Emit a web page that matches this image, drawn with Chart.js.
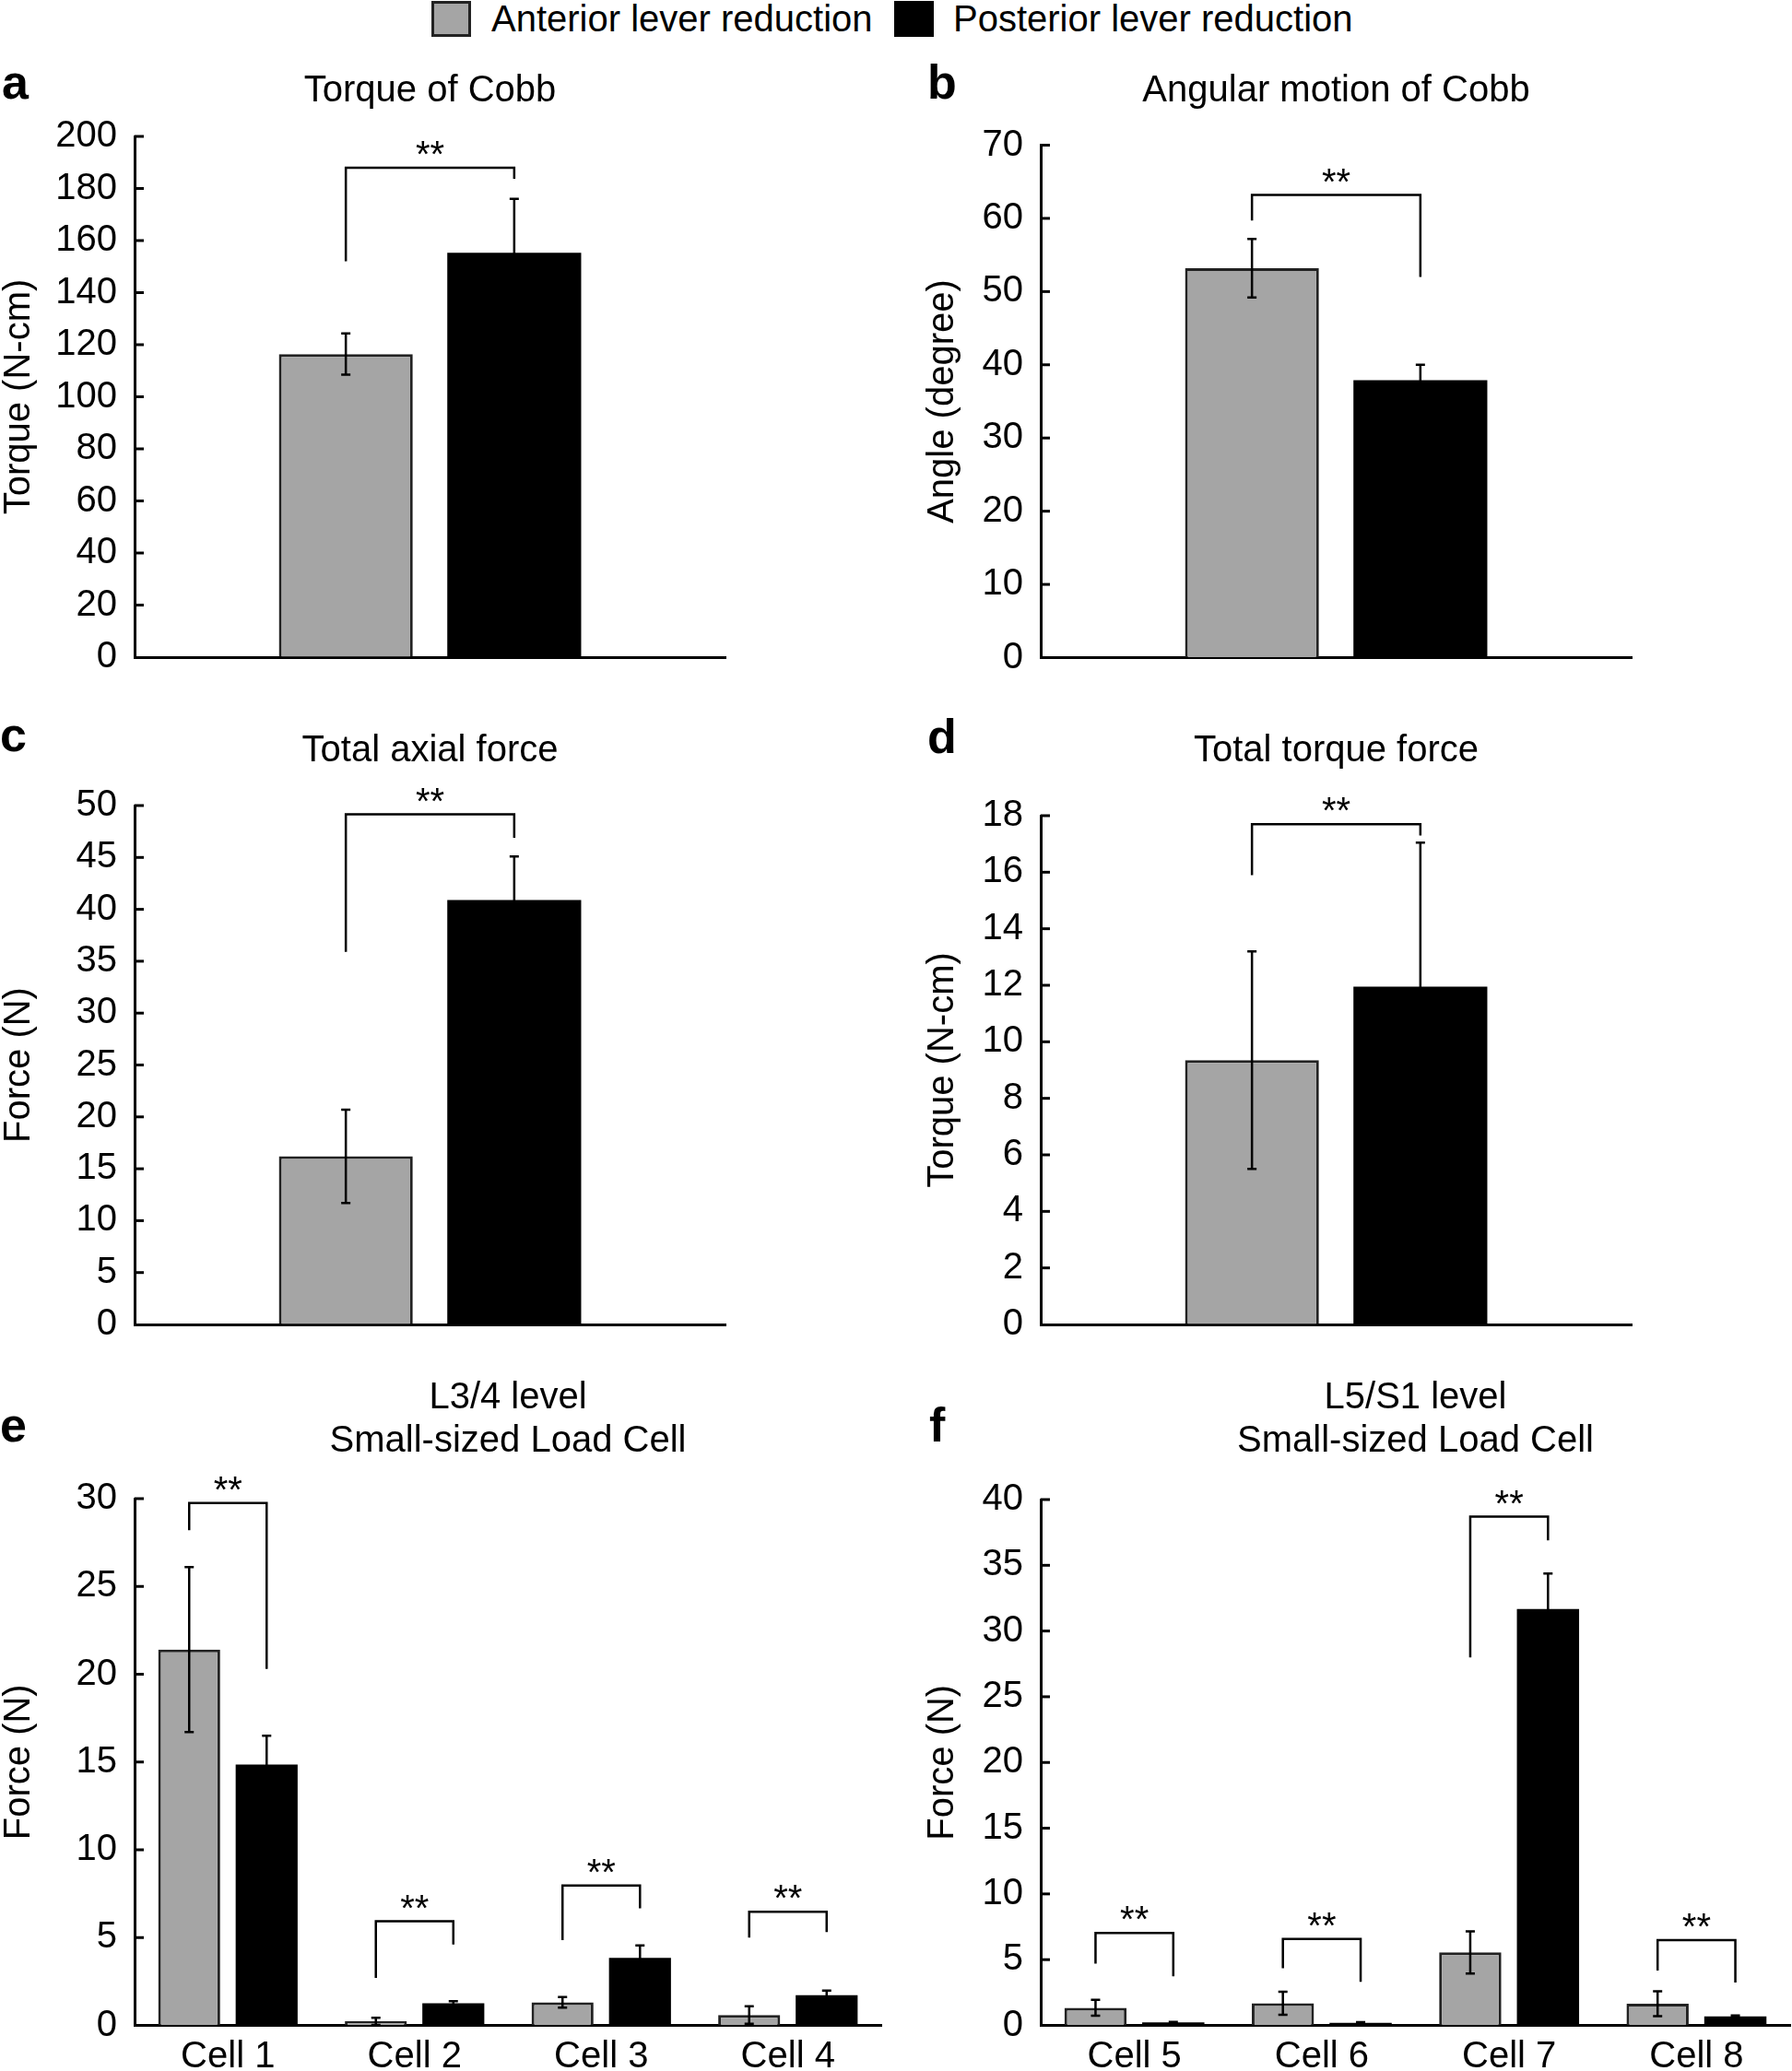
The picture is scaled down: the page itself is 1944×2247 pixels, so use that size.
<!DOCTYPE html>
<html>
<head>
<meta charset="utf-8">
<script src="https://cdn.jsdelivr.net/npm/chart.js@4.4.1/dist/chart.umd.min.js"></script>
<style>
  body{margin:0;width:1944px;height:2247px;background:#fff;position:relative;overflow:hidden;font-family:"Liberation Sans",Arial,sans-serif;}
  canvas{position:absolute;}
  .lg{position:absolute;top:0;height:40px;font-size:40px;line-height:40px;color:#000;white-space:nowrap;}
  .sw{position:absolute;top:1px;width:43px;height:39px;box-sizing:border-box;}
</style>
</head>
<body>
<div class="sw" style="left:468px;background:#a5a5a5;border:3px solid #222"></div>
<div class="lg" style="left:533px">Anterior lever reduction</div>
<div class="sw" style="left:970px;background:#000"></div>
<div class="lg" style="left:1034px">Posterior lever reduction</div>

<canvas id="pa"></canvas>
<canvas id="pb"></canvas>
<canvas id="pc"></canvas>
<canvas id="pd"></canvas>
<canvas id="pe"></canvas>
<canvas id="pf"></canvas>

<script>
// ---- data ----
const seriesNames = ['Anterior lever reduction', 'Posterior lever reduction'];

// a) torque of Cobb (N-cm)
const aAnterior = [116.4], aAnteriorSD = [7.9];
const aPosterior = [155.3], aPosteriorSD = [20.7];
const aBrackets = [[152, 188, 183.7]];   // left leg bottom, top, right leg bottom

// b) angular motion of Cobb (degree)
const bAnterior = [53.2], bAnteriorSD = [4.0];
const bPosterior = [37.9], bPosteriorSD = [2.1];
const bBrackets = [[59.7, 63.2, 52.0]];

// c) total axial force (N)
const cAnterior = [16.2], cAnteriorSD = [4.5];
const cPosterior = [40.9], cPosteriorSD = [4.2];
const cBrackets = [[35.9, 49.15, 46.9]];

// d) total torque force (N-cm)
const dAnterior = [9.35], dAnteriorSD = [3.85];
const dPosterior = [11.95], dPosteriorSD = [5.1];
const dBrackets = [[15.9, 17.7, 17.3]];

// e) L3/4 level, small-sized load cell (N)
const eCells = ['Cell 1', 'Cell 2', 'Cell 3', 'Cell 4'];
const eAnterior = [21.4, 0.23, 1.31, 0.59], eAnteriorSD = [4.7, 0.2, 0.3, 0.5];
const ePosterior = [14.85, 1.26, 3.85, 1.72], ePosteriorSD = [1.65, 0.12, 0.7, 0.26];
const eBrackets = [[28.2, 29.75, 20.3], [2.7, 5.93, 4.6], [4.85, 7.96, 6.67], [5.0, 6.47, 5.31]];

// f) L5/S1 level, small-sized load cell (N)
const fCells = ['Cell 5', 'Cell 6', 'Cell 7', 'Cell 8'];
const fAnterior = [1.34, 1.68, 5.55, 1.65], fAnteriorSD = [0.6, 0.88, 1.6, 0.95];
const fPosterior = [0.22, 0.2, 31.67, 0.69], fPosteriorSD = [0.05, 0.05, 2.7, 0.06];
const fBrackets = [[4.7, 7.03, 3.73], [4.35, 6.58, 3.32], [28.0, 38.7, 36.9], [4.18, 6.48, 3.26]];

// ---- chart setup ----
const FONT = '"Liberation Sans", Arial, sans-serif';
Chart.defaults.font.family = FONT;
Chart.defaults.color = '#000';
Chart.defaults.animation = false;

function makePanel(id, box, area, p){
  const cv = document.getElementById(id);
  cv.width = box[2]; cv.height = box[3];
  cv.style.left = box[0] + 'px'; cv.style.top = box[1] + 'px';

  const overlay = {
    id: 'overlay_' + id,
    afterDatasetsDraw(chart){
      const ctx = chart.ctx, y = chart.scales.y;
      const m0 = chart.getDatasetMeta(0), m1 = chart.getDatasetMeta(1);
      ctx.save();
      ctx.strokeStyle = '#000';
      ctx.lineWidth = 2.5;
      // error bars
      [[m0, p.ant, p.antSD], [m1, p.post, p.postSD]].forEach(([meta, vals, sd]) => {
        meta.data.forEach((bar, i) => {
          const t = y.getPixelForValue(vals[i] + sd[i]);
          const b = y.getPixelForValue(Math.max(0, vals[i] - sd[i]));
          ctx.beginPath();
          ctx.moveTo(bar.x, t); ctx.lineTo(bar.x, b);
          ctx.moveTo(bar.x - 5, t); ctx.lineTo(bar.x + 5, t);
          ctx.moveTo(bar.x - 5, b); ctx.lineTo(bar.x + 5, b);
          ctx.stroke();
        });
      });
      // inside ticks on the y axis
      const ca = chart.chartArea;
      ctx.lineWidth = 3;
      y.ticks.forEach(t => {
        if (t.value === 0) return;
        const py = y.getPixelForValue(t.value);
        ctx.beginPath(); ctx.moveTo(ca.left, py); ctx.lineTo(ca.left + 10, py); ctx.stroke();
      });
      // significance brackets
      ctx.lineWidth = 2.5;
      ctx.fillStyle = '#000';
      ctx.font = '40px ' + FONT;
      ctx.textAlign = 'center';
      ctx.textBaseline = 'alphabetic';
      p.brackets.forEach((br, i) => {
        const x1 = m0.data[i].x, x2 = m1.data[i].x;
        const yl = y.getPixelForValue(br[0]), yt = y.getPixelForValue(br[1]), yr = y.getPixelForValue(br[2]);
        ctx.beginPath();
        ctx.moveTo(x1, yl); ctx.lineTo(x1, yt); ctx.lineTo(x2, yt); ctx.lineTo(x2, yr);
        ctx.stroke();
        ctx.fillText('**', (x1 + x2) / 2, yt - 1);
      });
      // titles + panel letter
      ctx.font = '40px ' + FONT;
      ctx.textBaseline = 'middle';
      const cx = (ca.left + ca.right) / 2;
      p.title.forEach((line, k) => ctx.fillText(line, cx, p.titleY[k] - box[1]));
      ctx.font = 'bold 52px ' + FONT;
      ctx.textAlign = 'left';
      ctx.textBaseline = 'alphabetic';
      ctx.fillText(p.letter, p.letterPos[0] - box[0], p.letterPos[1] - box[1]);
      ctx.restore();
    }
  };

  return new Chart(cv, {
    type: 'bar',
    data: {
      labels: p.labels,
      datasets: [
        { label: seriesNames[0], data: p.ant, backgroundColor: '#a5a5a5', borderColor: '#222', borderWidth: 3, borderSkipped: 'bottom',
          categoryPercentage: p.catPct, barPercentage: p.barPct },
        { label: seriesNames[1], data: p.post, backgroundColor: '#000', borderWidth: 0,
          categoryPercentage: p.catPct, barPercentage: p.barPct }
      ]
    },
    options: {
      responsive: false,
      devicePixelRatio: 1,
      layout: { padding: { top: area[1] - box[1], right: box[0] + box[2] - area[2], left: 0, bottom: 0 } },
      plugins: { legend: { display: false }, tooltip: { enabled: false } },
      scales: {
        x: {
          grid: { display: false, drawTicks: false },
          border: { display: true, color: '#000', width: 3 },
          ticks: { display: p.showX, padding: 10, font: { size: 40 }, color: '#000' },
          afterFit(s){ s.height = box[1] + box[3] - area[3]; }
        },
        y: {
          min: 0, max: p.max,
          grid: { display: true, drawOnChartArea: false, drawTicks: false },
          border: { display: true, color: '#000', width: 3 },
          ticks: { stepSize: p.step, padding: 19, font: { size: 40 }, color: '#000' },
          title: { display: true, text: p.yTitle, color: '#000', font: { size: 40, lineHeight: 1 }, padding: { top: p.yTitleX - box[0] - 20, bottom: 0 } },
          afterFit(s){ s.width = area[0] - box[0]; }
        }
      }
    },
    plugins: [overlay]
  });
}

const barCfg1 = { catPct: 0.57, barPct: 0.795 };
const barCfg4 = { catPct: 0.83, barPct: 0.80 };

makePanel('pa', [0, 40, 972, 720], [146, 148, 787, 713], Object.assign({
  labels: [''], ant: aAnterior, antSD: aAnteriorSD, post: aPosterior, postSD: aPosteriorSD, brackets: aBrackets,
  max: 200, step: 20, yTitle: 'Torque (N-cm)', yTitleX: 21, showX: false,
  title: ['Torque of Cobb'], titleY: [99], letter: 'a', letterPos: [2, 107]
}, barCfg1));

makePanel('pb', [1000, 40, 944, 720], [1129, 157.5, 1770, 713.5], Object.assign({
  labels: [''], ant: bAnterior, antSD: bAnteriorSD, post: bPosterior, postSD: bPosteriorSD, brackets: bBrackets,
  max: 70, step: 10, yTitle: 'Angle (degree)', yTitleX: 1023, showX: false,
  title: ['Angular motion of Cobb'], titleY: [99], letter: 'b', letterPos: [1006, 107]
}, barCfg1));

makePanel('pc', [0, 760, 972, 720], [146, 874, 787, 1440.5], Object.assign({
  labels: [''], ant: cAnterior, antSD: cAnteriorSD, post: cPosterior, postSD: cPosteriorSD, brackets: cBrackets,
  max: 50, step: 5, yTitle: 'Force (N)', yTitleX: 21, showX: false,
  title: ['Total axial force'], titleY: [815], letter: 'c', letterPos: [0, 815]
}, barCfg1));

makePanel('pd', [1000, 760, 944, 720], [1129, 885, 1770, 1440.5], Object.assign({
  labels: [''], ant: dAnterior, antSD: dAnteriorSD, post: dPosterior, postSD: dPosteriorSD, brackets: dBrackets,
  max: 18, step: 2, yTitle: 'Torque (N-cm)', yTitleX: 1023, showX: false,
  title: ['Total torque force'], titleY: [815], letter: 'd', letterPos: [1006, 817]
}, barCfg1));

makePanel('pe', [0, 1470, 972, 777], [146, 1626, 956, 2197.5], Object.assign({
  labels: eCells, ant: eAnterior, antSD: eAnteriorSD, post: ePosterior, postSD: ePosteriorSD, brackets: eBrackets,
  max: 30, step: 5, yTitle: 'Force (N)', yTitleX: 21, showX: true,
  title: ['L3/4 level', 'Small-sized Load Cell'], titleY: [1517, 1564], letter: 'e', letterPos: [0, 1564]
}, barCfg4));

makePanel('pf', [1000, 1470, 944, 777], [1129, 1627, 1942, 2197.5], Object.assign({
  labels: fCells, ant: fAnterior, antSD: fAnteriorSD, post: fPosterior, postSD: fPosteriorSD, brackets: fBrackets,
  max: 40, step: 5, yTitle: 'Force (N)', yTitleX: 1023, showX: true,
  title: ['L5/S1 level', 'Small-sized Load Cell'], titleY: [1517, 1564], letter: 'f', letterPos: [1008, 1564]
}, barCfg4));
</script>
</body>
</html>
